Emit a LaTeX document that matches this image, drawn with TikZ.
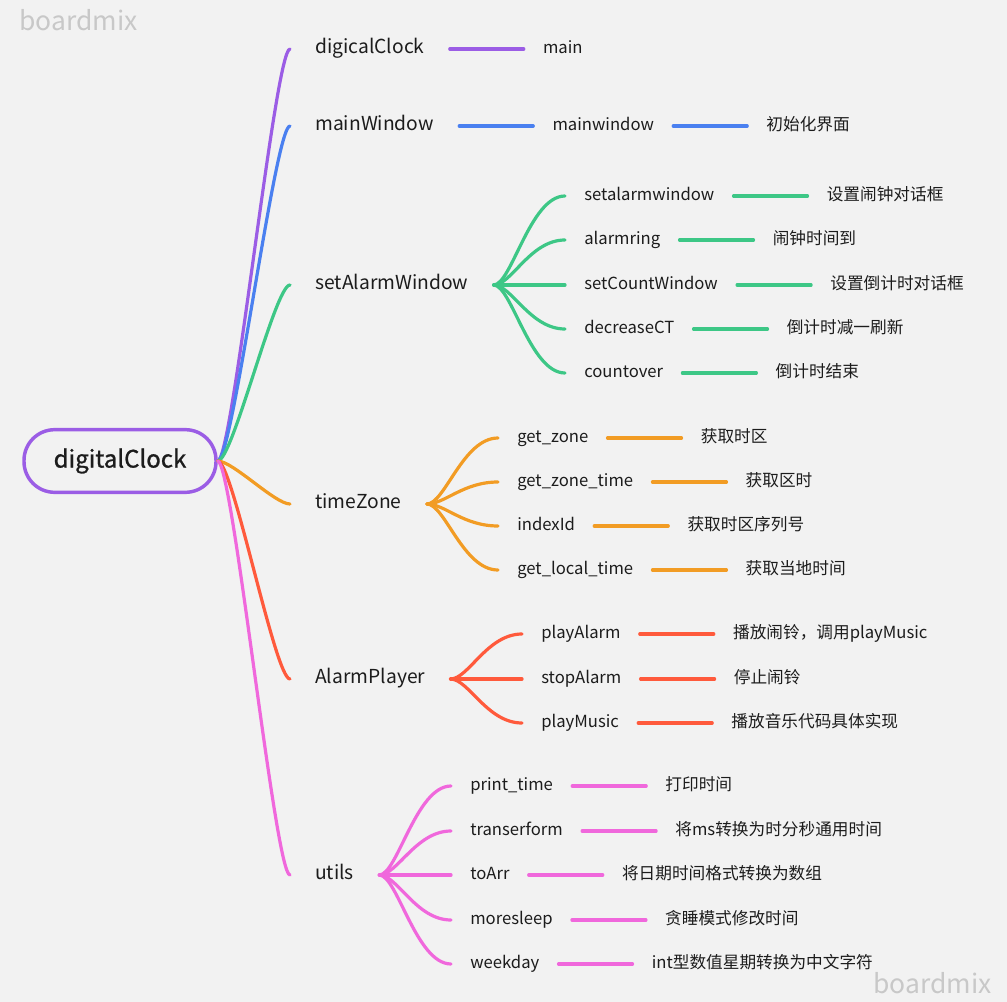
\documentclass[tikz,border=0pt]{standalone}
\usepackage{fontspec}
\setmainfont{Noto Sans CJK SC}
\newfontfamily\rootfont{Noto Sans CJK SC}[FakeBold=1]
\usetikzlibrary{positioning}
\definecolor{bg}{HTML}{F2F2F2}
\definecolor{mark}{HTML}{C8C8C8}
\definecolor{ink}{HTML}{1C1C1C}
\definecolor{purple}{HTML}{9B5DE5}
\definecolor{blue}{HTML}{4A80F0}
\definecolor{green}{HTML}{3DC786}
\definecolor{orange}{HTML}{F29C24}
\definecolor{red}{HTML}{FF5A3C}
\definecolor{pink}{HTML}{F068DC}
\tikzset{
  branch/.style={anchor=west,inner xsep=18.75pt,inner ysep=0pt,text=ink,
    font=\fontsize{14.45}{16}\selectfont,text height=0.7em,text depth=0.05em},
  sub/.style={anchor=west,inner xsep=14.25pt,inner ysep=0pt,text=ink,
    font=\fontsize{12.5}{14}\selectfont,text height=0.7em,text depth=0.05em},
  leaf/.style={sub,right=55.5pt of #1},
  wire/.style={line width=2.4pt,line cap=round,draw=#1},
}
\begin{document}
\begin{tikzpicture}[x=0.75pt,y=-0.75pt]
\useasboundingbox (0,-2) rectangle (1007,1000);
\fill[bg] (0,-2) rectangle (1007,1000);
\node[text=mark,font=\fontsize{19.85}{21}\selectfont,anchor=west,inner sep=0] (markA) at (19,18) {boardmix};
\node[text=mark,font=\fontsize{19.85}{21}\selectfont,anchor=west,inner sep=0] (markB) at (873,981) {boardmix};
% root
\node[draw=purple,line width=2.6pt,fill=bg,rounded corners=23pt,minimum width=144pt,
  minimum height=47pt,text=ink,font=\rootfont\fontsize{18}{20}\selectfont] (dc) at (120,459) {digitalClock};
% first level
\node[branch] (clk) at (290,47) {digicalClock};
\node[branch] (win) at (290,124) {mainWindow};
\node[branch] (alarm) at (290,283) {setAlarmWindow};
\node[branch] (zone) at (290,502) {timeZone};
\node[branch] (player) at (290,677) {AlarmPlayer};
\node[branch] (utils) at (290,873) {utils};
\foreach \b/\c in {clk/purple,win/blue,alarm/green,zone/orange,player/red,utils/pink}
  \draw[wire=\c] (dc.east) .. controls +(15,0) and +(-15,0) .. (\b.west);
% digicalClock, mainWindow
\node[sub,right=55.5pt of clk] (clkmain) {main};
\draw[wire=purple] (clk) -- (clkmain);
\node[sub,right=55.5pt of win] (winsub) {mainwindow};
\node[leaf=winsub] (winleaf) {初始化界面};
\draw[wire=blue] (win) -- (winsub);
\draw[wire=blue] (winsub) -- (winleaf);
% setAlarmWindow
\foreach \n/\y/\name/\desc in {1/194/setalarmwindow/设置闹钟对话框,2/238/alarmring/闹钟时间到,
    3/283/setCountWindow/设置倒计时对话框,4/327/decreaseCT/倒计时减一刷新,5/371/countover/倒计时结束}{
  \node[sub] (alarm-\n) at (565,\y) {\name};
  \node[leaf=alarm-\n] (alarmd-\n) {\desc};
  \draw[wire=green] (alarm.east) .. controls +(18,0) and +(-35,0) .. (alarm-\n.west);
  \draw[wire=green] (alarm-\n) -- (alarmd-\n);
}
% timeZone
\foreach \n/\y/\name/\desc in {1/436/get\_zone/获取时区,2/480/get\_zone\_time/获取区时,
    3/524/indexId/获取时区序列号,4/568/get\_local\_time/获取当地时间}{
  \node[sub] (zone-\n) at (498,\y) {\name};
  \node[leaf=zone-\n] (zoned-\n) {\desc};
  \draw[wire=orange] (zone.east) .. controls +(18,0) and +(-35,0) .. (zone-\n.west);
  \draw[wire=orange] (zone-\n) -- (zoned-\n);
}
% AlarmPlayer
\foreach \n/\y/\name/\desc in {1/632/playAlarm/播放闹铃，调用playMusic,2/677/stopAlarm/停止闹铃,
    3/721/playMusic/播放音乐代码具体实现}{
  \node[sub] (player-\n) at (522,\y) {\name};
  \node[leaf=player-\n] (playerd-\n) {\desc};
  \draw[wire=red] (player.east) .. controls +(18,0) and +(-35,0) .. (player-\n.west);
  \draw[wire=red] (player-\n) -- (playerd-\n);
}
% utils
\foreach \n/\y/\name/\desc in {1/784/print\_time/打印时间,2/829/transerform/将ms转换为时分秒通用时间,
    3/873/toArr/将日期时间格式转换为数组,4/918/moresleep/贪睡模式修改时间,5/962/weekday/int型数值星期转换为中文字符}{
  \node[sub] (utils-\n) at (451,\y) {\name};
  \node[leaf=utils-\n] (utilsd-\n) {\desc};
  \draw[wire=pink] (utils.east) .. controls +(18,0) and +(-35,0) .. (utils-\n.west);
  \draw[wire=pink] (utils-\n) -- (utilsd-\n);
}
\end{tikzpicture}
\end{document}
